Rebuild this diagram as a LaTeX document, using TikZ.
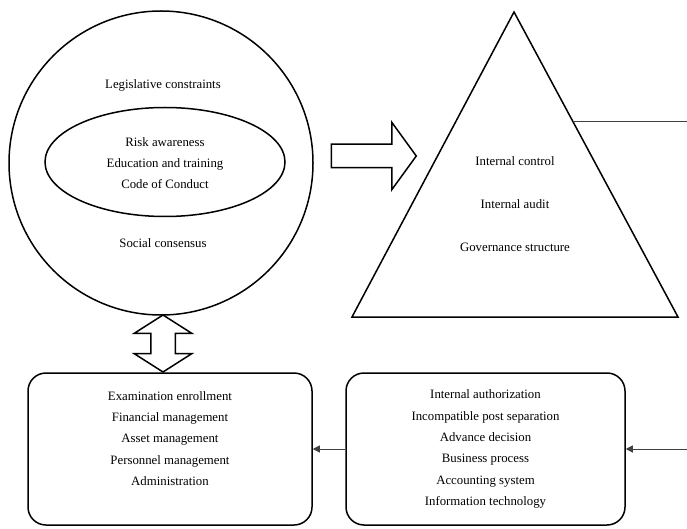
\documentclass[tikz,border=0pt]{standalone}
\usepackage{fontspec}
\setmainfont{Liberation Serif}
\usetikzlibrary{shapes.geometric, shapes.arrows, arrows.meta}

\begin{document}
\begin{tikzpicture}
        [
            x=1pt,
            y=-1pt,
            font=\fontsize{12.8}{21.3}\selectfont,
            outline/.style={draw, line width=1.5pt},
            box/.style={outline, rounded corners=18pt, minimum width=284pt, minimum height=152pt, align=center},
            link/.style={draw=black!75, line width=1pt},
            hollow/.style={outline, inner xsep=0pt, inner ysep=11pt}
        ]
        \useasboundingbox (0,0) rectangle (687,529);

        % culture circle
        \node[circle, outline, minimum size=304pt] (culture) at (161,163) {};
        \node[ellipse, outline, minimum width=240pt, minimum height=109pt] (core) at (165,162) {};
        \node (legis) at (163,85) {Legislative constraints};
        \node[align=center] (corelist) at (165,163) {Risk awareness\\Education and training\\Code of Conduct};
        \node (social) at (163,243) {Social consensus};

        % pyramid
        \coordinate (apex) at (514,12);
        \coordinate (bl) at (352,317);
        \coordinate (br) at (678,317);
        \draw[outline] (apex) -- (bl) -- (br) -- cycle;
        \node (ic) at (515,161) {Internal control};
        \node (ia) at (515,204) {Internal audit};
        \node (gs) at (515,247) {Governance structure};

        \node[single arrow, hollow, minimum height=85pt, single arrow head extend=22pt, single arrow tip angle=108] (push) at (369.5,156) {};

        % boxes
        \node[box] (units) at (170,449) {Examination enrollment\\Financial management\\Asset management\\Personnel management\\Administration\\~};
        \node[box, minimum width=279pt] (rules) at (485.5,449) {Internal authorization\\Incompatible post separation\\Advance decision\\Business process\\Accounting system\\Information technology};

        \node[double arrow, hollow, rotate=90, inner ysep=11.5pt, minimum height=57pt, double arrow head extend=16.5pt, double arrow tip angle=115] (tie) at (163,343.5) {};

        \coordinate (tap) at (573,122);
        \coordinate (outT) at (687,122);
        \coordinate (outB) at (687,449);
        \draw[link] (tap) -- (outT);
        \draw[link, -{Triangle[length=7pt, width=7pt]}] (outB) -- (rules.east);
        \draw[link, -{Triangle[length=7pt, width=7pt]}] (rules.west) -- (units.east);

    \end{tikzpicture}
\end{document}
